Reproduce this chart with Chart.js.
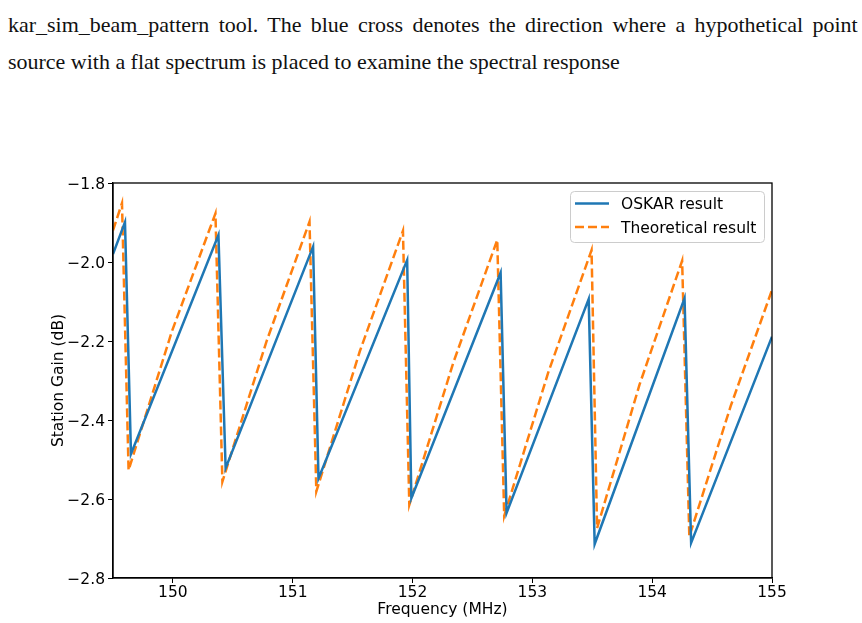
<!DOCTYPE html>
<html><head><meta charset="utf-8">
<script src="https://cdn.jsdelivr.net/npm/chart.js@4"></script>
<style>
html,body{margin:0;padding:0;background:#fff;width:862px;height:623px;overflow:hidden;}
#chart{position:absolute;left:0;top:0;}
.line{position:absolute;left:8px;font-family:"Liberation Serif","Times New Roman",serif;color:#111;white-space:nowrap;line-height:1;}
#l1{top:14px;}
#l2{top:51px;}
</style>
</head><body>
<div id="l1" class="line">kar_sim_beam_pattern tool. The blue cross denotes the direction where a hypothetical point</div>
<div id="l2" class="line">source with a flat spectrum is placed to examine the spectral response</div>
<canvas id="chart" width="862" height="623"></canvas>
<script>
// ---- data ----
const seriesLabels = ['OSKAR result', 'Theoretical result'];
const oskarFreq = [149.50, 149.60, 149.65, 150.38, 150.44, 151.17, 151.215, 151.955, 151.99, 152.735, 152.785, 153.47, 153.52, 154.27, 154.325, 155.00];
const oskarGain = [-1.980, -1.899, -2.486, -1.932, -2.522, -1.961, -2.548, -1.995, -2.598, -2.027, -2.635, -2.094, -2.714, -2.092, -2.711, -2.189];
const theoFreq = [149.50, 149.575, 149.63, 149.99, 150.355, 150.413, 150.78, 151.14, 151.197, 151.56, 151.92, 151.973, 152.34, 152.707, 152.765, 153.13, 153.494, 153.54, 153.895, 154.25, 154.31, 154.655, 155.00];
const theoGain = [-1.920, -1.851, -2.527, -2.177, -1.877, -2.556, -2.202, -1.898, -2.581, -2.226, -1.921, -2.615, -2.255, -1.944, -2.643, -2.282, -1.970, -2.674, -2.310, -1.997, -2.695, -2.365, -2.071];
const xTicks = [150, 151, 152, 153, 154, 155];
const yTicks = [-2.8, -2.6, -2.4, -2.2, -2.0, -1.8];
const xTitle = 'Frequency (MHz)';
const yTitle = 'Station Gain (dB)';

// ---- fit header text ----
(function(){
  const l1 = document.getElementById('l1'), l2 = document.getElementById('l2');
  const c = document.createElement('canvas').getContext('2d');
  const fam = '"Liberation Serif","Times New Roman",serif';
  c.font = '100px ' + fam;
  const w2 = c.measureText(l2.textContent).width;
  const fs = 612 / w2 * 100;
  l1.style.fontSize = fs + 'px'; l2.style.fontSize = fs + 'px';
  c.font = fs + 'px ' + fam;
  const w1 = c.measureText(l1.textContent).width;
  const nSp = l1.textContent.split(' ').length - 1;
  l1.style.wordSpacing = ((850 - w1) / nSp) + 'px';
})();

const FONT = 'DejaVu Sans';
const frame = {
  id: 'frame',
  afterDatasetsDraw(chart) {
    const {ctx, chartArea: a} = chart;
    ctx.save();
    ctx.strokeStyle = '#000'; ctx.lineWidth = 1.3;
    ctx.strokeRect(a.left, a.top, a.right - a.left, a.bottom - a.top);
    ctx.restore();
  }
};
const legendBox = {
  id: 'legendBox',
  afterDraw(chart) {
    const {ctx, chartArea: a} = chart;
    const w = 194, h = 51;
    const x0 = a.right - 8 - w, y0 = a.top + 8;
    ctx.save();
    ctx.beginPath();
    if (ctx.roundRect) ctx.roundRect(x0 + 0.5, y0 + 0.5, w, h, 4); else ctx.rect(x0 + 0.5, y0 + 0.5, w, h);
    ctx.fillStyle = 'rgba(255,255,255,0.8)'; ctx.fill();
    ctx.strokeStyle = '#cccccc'; ctx.lineWidth = 1; ctx.stroke();
    const rows = [y0 + 12.5, y0 + 36];
    chart.data.datasets.forEach((ds, i) => {
      ctx.beginPath();
      ctx.setLineDash(ds.borderDash || []);
      ctx.strokeStyle = ds.borderColor; ctx.lineWidth = ds.borderWidth;
      ctx.moveTo(x0 + 5, rows[i]); ctx.lineTo(x0 + 39, rows[i]); ctx.stroke();
      ctx.setLineDash([]);
      ctx.fillStyle = '#000'; ctx.font = '15.5px "' + FONT + '"';
      ctx.textBaseline = 'middle'; ctx.textAlign = 'left';
      ctx.fillText(ds.label, x0 + 51, rows[i] + 1.5);
    });
    ctx.restore();
  }
};

new Chart(document.getElementById('chart'), {
  type: 'line',
  data: {
    datasets: [
      { label: seriesLabels[0], data: oskarFreq.map((f, i) => ({x: f, y: oskarGain[i]})),
        borderColor: '#1f77b4', borderWidth: 2.5, pointRadius: 0, fill: false, tension: 0 },
      { label: seriesLabels[1], data: theoFreq.map((f, i) => ({x: f, y: theoGain[i]})),
        borderColor: '#ff7f0e', borderWidth: 2.5, borderDash: [9, 4], pointRadius: 0, fill: false, tension: 0 }
    ]
  },
  options: {
    animation: false, responsive: false, devicePixelRatio: 1,
    layout: {padding: {top: 183, right: 90, bottom: 0, left: 0}},
    plugins: {legend: {display: false}, tooltip: {enabled: false}},
    scales: {
      x: {
        type: 'linear', min: 149.5, max: 155,
        afterBuildTicks: s => { s.ticks = xTicks.map(v => ({value: v})); },
        afterFit: s => { s.height = 45; },
        grid: {drawOnChartArea: false, drawTicks: true, tickLength: 5, color: '#000', lineWidth: 1},
        border: {color: '#000', width: 1.3},
        ticks: {color: '#000', font: {family: FONT, size: 15.5}, padding: 1, maxRotation: 0, autoSkip: false,
                callback: v => String(v)},
        title: {display: true, text: xTitle, color: '#000', font: {family: FONT, size: 15.5}, padding: {top: 0, bottom: 4}}
      },
      y: {
        type: 'linear', min: -2.8, max: -1.8,
        afterBuildTicks: s => { s.ticks = yTicks.map(v => ({value: v})); },
        afterFit: s => { s.width = 113; },
        grid: {drawOnChartArea: false, drawTicks: true, tickLength: 5, color: '#000', lineWidth: 1},
        border: {color: '#000', width: 1.3},
        ticks: {color: '#000', font: {family: FONT, size: 15.5}, padding: 3, autoSkip: false, labelOffset: 2,
                callback: v => Number(v).toFixed(1).replace('-', '\u2212')},
        title: {display: true, text: yTitle, color: '#000', font: {family: FONT, size: 15.5}, padding: {top: 50, bottom: 0}}
      }
    }
  },
  plugins: [frame, legendBox]
});
</script>
</body></html>
